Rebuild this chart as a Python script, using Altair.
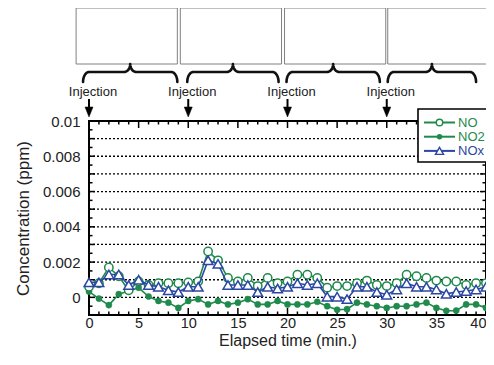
import altair as alt
import numpy as np
import pandas as pd

# ---------------- data ----------------
minutes = list(range(41))
no_vals = [0.0006, 0.0008, 0.0017, 0.0012, 0.0004, 0.0009, 0.0007, 0.0008, 0.0008, 0.0008,
           0.00085, 0.0009, 0.0026, 0.0021, 0.0011, 0.0009, 0.0011, 0.00064, 0.0011, 0.0008,
           0.0009, 0.00128, 0.00128, 0.0011, 0.00055, 0.00064, 0.00064, 0.0008, 0.00095, 0.0007,
           0.00064, 0.0008, 0.00128, 0.0012, 0.0011, 0.00095, 0.0009, 0.0009, 0.0007, 0.0008,
           0.0008]
no2_vals = [0.00033, -0.00007, -0.00044, 0.00018, 0.00036, 0.00055, 0.00005, -0.0002, -0.0003, -0.0006,
            -0.0002, -0.0001, -0.0004, -0.0002, -0.0004, -0.0003, -0.0001, -0.0004, -0.0004, -0.0002,
            -0.0004, -0.0004, -0.0004, -0.00025, -0.0005, -0.0007, -0.00067, -0.0003, -0.0004, -0.0005,
            -0.0006, -0.0005, -0.0005, -0.0004, -0.0003, -0.0006, -0.00076, -0.00075, -0.0004, -0.0004,
            -0.0006]
nox_vals = [0.00085, 0.00085, 0.0013, 0.0013, 0.0007, 0.001, 0.0007, 0.0006, 0.0004, 0.0003,
            0.0006, 0.0006, 0.0021, 0.0019, 0.0007, 0.0007, 0.0007, 0.0003, 0.0006, 0.0005,
            0.0006, 0.0008, 0.0007, 0.0008, 0.00004, 0.00004, -0.0001, 0.0006, 0.0006, 0.0003,
            0.00015, 0.00045, 0.0008, 0.0006, 0.0006, 0.00045, 0.0002, 0.0003, 0.00036, 0.00045,
            0.0006]

series_names = ["NO", "NO2", "NOx"]
series_colors = ["#1f8a4c", "#1f8a4c", "#2b47a3"]

injection_times = [0, 10, 20, 30]
injection_label = "Injection"
box_start = [-1.3, 9.2, 19.7, 30.1]
box_end = [8.9, 19.4, 29.9, 40.3]
brace_start = [-0.6, 9.9, 19.9, 30.1]
brace_end = [8.9, 19.1, 29.3, 39.0]

x_tick_labels = [0, 5, 10, 15, 20, 25, 30, 35, 40]
y_tick_labels = [0, 0.002, 0.004, 0.006, 0.008, 0.01]
grid_values = [0, 0.001, 0.002, 0.003, 0.004, 0.005, 0.006, 0.007, 0.008, 0.009]

x_title = "Elapsed time (min.)"
y_title = "Concentration (ppm)"

# ---------------- layout ----------------
PAD_LEFT, PAD_TOP, PAD_RIGHT, PAD_BOTTOM = 81, 113, 0, 37
W, H = 397, 194
PLOT_TOP = 8 + PAD_TOP          # page y of the plot's top edge
PLOT_LEFT = 8 + PAD_LEFT        # page x of the plot's left edge
SHIFT = -3                      # header block moved up a little so everything fits the page
def py(page_y):                 # reference page y (header) -> y relative to the plot's top edge
    return page_y + SHIFT - PLOT_TOP
def px(page_x):                 # page x -> x relative to the plot's left edge
    return page_x - PLOT_LEFT

X_DOMAIN = [0, 40]
Y_DOMAIN = [-0.001, 0.01]
FONT = "Liberation Sans"
TXT = "#222222"
PX_PER_MIN = W / (X_DOMAIN[1] - X_DOMAIN[0])

xs = alt.Scale(domain=X_DOMAIN, nice=False, zero=False)
ys = alt.Scale(domain=Y_DOMAIN, nice=False, zero=False)

x_axis = alt.Axis(
    values=x_tick_labels, title=x_title, ticks=False, domain=False, grid=False,
    labelFontSize=14.5, labelPadding=1, labelColor=TXT, labelFont=FONT, labelOverlap=False,
    labelFlush=False,
    labelAlign={"condition": {"test": "datum.value == 40", "value": "right"}, "value": "center"},
    titleFontSize=16, titleFont=FONT, titleColor=TXT, titleFontWeight="normal",
    titlePadding=3)
y_axis = alt.Axis(
    values=y_tick_labels, format="~g", title=y_title, ticks=False, domain=False,
    grid=False, labelFontSize=15, labelPadding=9, labelColor=TXT, labelFont=FONT,
    labelOverlap=False, labelFlush=False,
    titleFontSize=17, titleFont=FONT, titleColor=TXT, titleFontWeight="normal",
    titlePadding=10)

def X(f="t:Q"):
    return alt.X(f, scale=xs, axis=x_axis)
def Y(f="v:Q"):
    return alt.Y(f, scale=ys, axis=y_axis)

def sdf(vals):
    return pd.DataFrame({"t": minutes, "v": vals})

# gridlines
grid = alt.Chart(pd.DataFrame({"v": grid_values})).mark_rule(
    color="black", strokeWidth=1.3, strokeDash=[2, 2]).encode(
    y=Y(), x=alt.value(0), x2=alt.value(W))

# inward ticks on all four sides of the frame
yt = np.round(np.arange(-0.001, 0.01001, 0.0005), 5)
y_major = [v for v in yt if abs(round(v / 0.001) * 0.001 - v) < 1e-9]
y_minor = [v for v in yt if abs(round(v / 0.001) * 0.001 - v) >= 1e-9]
x_major = [t for t in range(41) if t % 5 == 0]
x_minor = [t for t in range(41) if t % 5 != 0]

layers_ticks = []
for L, vals in [(6, y_major), (3.5, y_minor)]:
    d = pd.DataFrame({"v": vals})
    layers_ticks.append(alt.Chart(d).mark_rule(color="black", strokeWidth=1.5).encode(
        y=Y(), x=alt.value(0), x2=alt.value(L)))
    layers_ticks.append(alt.Chart(d).mark_rule(color="black", strokeWidth=1.5).encode(
        y=Y(), x=alt.value(W - L), x2=alt.value(W)))
for L, vals in [(7, x_major), (3.5, x_minor)]:
    d = pd.DataFrame({"t": vals})
    layers_ticks.append(alt.Chart(d).mark_rule(color="black", strokeWidth=1.5).encode(
        x=X(), y=alt.value(H - L), y2=alt.value(H)))
    layers_ticks.append(alt.Chart(d).mark_rule(color="black", strokeWidth=1.5).encode(
        x=X(), y=alt.value(0), y2=alt.value(L)))

# series
def series_layers(vals, color, kind):
    base = alt.Chart(sdf(vals))
    line = base.mark_line(color=color, strokeWidth=1.6).encode(x=X(), y=Y())
    if kind == "open_circle":
        pts = base.mark_point(shape="circle", size=70, filled=True, fill="white",
                              stroke=color, strokeWidth=1.5, opacity=1)
    elif kind == "dot":
        pts = base.mark_point(shape="circle", size=38, filled=True, fill=color,
                              stroke=color, strokeWidth=0.5, opacity=1)
    else:
        pts = base.mark_point(shape="triangle-up", size=95, filled=True, fill="white",
                              stroke=color, strokeWidth=1.5, opacity=1)
    return [line, pts.encode(x=X(), y=Y())]

data_layers = (series_layers(no2_vals, series_colors[1], "dot")
               + series_layers(no_vals, series_colors[0], "open_circle")
               + series_layers(nox_vals, series_colors[2], "triangle"))

# injection annotations (x from data, placed above the plot)
inj = pd.DataFrame({"t": injection_times, "label": [injection_label] * len(injection_times)})
inj_text = alt.Chart(inj).mark_text(fontSize=13, font=FONT, color=TXT, align="center",
                                    baseline="middle", dx=4).encode(
    x=X(), y=alt.value(py(95)), text="label:N")
inj_stem = alt.Chart(inj).mark_rule(color="black", strokeWidth=2).encode(
    x=X(), y=alt.value(py(102)), y2=alt.value(py(112)))
inj_head = alt.Chart(inj).mark_point(shape="M-0.8,-1L0.8,-1L0,1Z", size=100, filled=True,
                                     fill="black", stroke="black", strokeWidth=0.5,
                                     opacity=1).encode(x=X(), y=alt.value(py(115)))
boxes = alt.Chart(pd.DataFrame({"t": box_start, "t2": box_end})).mark_rect(
    fill="white", stroke="#808080", strokeWidth=1).encode(
    x=X(), x2="t2:Q", y=alt.value(py(11)), y2=alt.value(py(67)))

# legend (drawn by hand, clipped on the right edge like the reference)
leg_x0 = px(418)
legend_layers = [alt.Chart(pd.DataFrame({"a": [0]})).mark_rect(
    fill="white", stroke="black", strokeWidth=1.6).encode(
    x=alt.value(leg_x0), x2=alt.value(leg_x0 + 120), y=alt.value(py(112)),
    y2=alt.value(py(165)))]
kinds = ["open_circle", "dot", "triangle"]
for i, (name, col, kind) in enumerate(zip(series_names, series_colors, kinds)):
    yy = py(125.5 + 14.2 * i)
    one = alt.Chart(pd.DataFrame({"name": [name]}))
    legend_layers.append(one.mark_rule(color=col, strokeWidth=2).encode(
        x=alt.value(leg_x0 + 6), x2=alt.value(leg_x0 + 37), y=alt.value(yy)))
    if kind == "open_circle":
        m = one.mark_point(shape="circle", size=42, filled=True, fill="white", stroke=col,
                           strokeWidth=1.4, opacity=1)
    elif kind == "dot":
        m = one.mark_point(shape="circle", size=30, filled=True, fill=col, opacity=1)
    else:
        m = one.mark_point(shape="triangle-up", size=65, filled=True, fill="white", stroke=col,
                           strokeWidth=1.4, opacity=1)
    legend_layers.append(m.encode(x=alt.value(leg_x0 + 21.5), y=alt.value(yy)))
    legend_layers.append(one.mark_text(fontSize=13, font=FONT, color=col, align="left",
                                       baseline="middle").encode(
        x=alt.value(leg_x0 + 40), y=alt.value(yy + 0.5), text="name:N"))

main = alt.layer(grid, *layers_ticks, *data_layers, boxes, inj_text, inj_stem,
                 inj_head, *legend_layers)

# braces above each injection period (shape geometry in pixels above the plot top)
end_h, bar_h, cusp_h = -py(85), -py(75), -py(67)
rows = []
for k, (a, b) in enumerate(zip(brace_start, brace_end)):
    Lpx = (b - a) * PX_PER_MIN
    c = Lpx / 2
    ts = np.linspace(0, np.pi / 2, 10)
    pts = [(6 * (1 - np.cos(t)), end_h + (bar_h - end_h) * np.sin(t)) for t in ts]
    pts += [(c - 6 + 6 * np.sin(t), bar_h + (cusp_h - bar_h) * (1 - np.cos(t))) for t in ts]
    pts += [(Lpx - u, v) for (u, v) in reversed(pts)]
    for j, (u, v) in enumerate(pts):
        rows.append({"brace": k, "idx": j, "t": a + u / PX_PER_MIN, "h": v})
brace_df = pd.DataFrame(rows)
braces = alt.Chart(brace_df).mark_line(color="#111111", strokeWidth=2.6, strokeCap="round",
                                       strokeJoin="round").encode(
    x=X(),
    y=alt.Y("h:Q", scale=alt.Scale(domain=[0, 100], range=[0, -100], nice=False, zero=False),
            axis=None),
    detail="brace:N", order="idx:Q")

chart = alt.layer(main, braces).resolve_scale(y="independent").properties(
    width=W, height=H,
    autosize=alt.AutoSizeParams(type="none"),
    padding={"left": PAD_LEFT, "top": PAD_TOP, "right": PAD_RIGHT, "bottom": PAD_BOTTOM},
    background="white",
).configure_view(stroke="black", strokeWidth=2)

chart.save("out.html", embed_options={"renderer": "svg", "actions": False})
